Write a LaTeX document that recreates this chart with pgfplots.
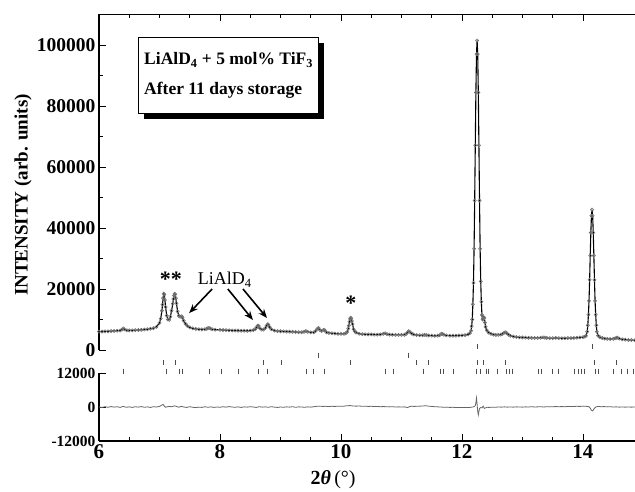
\documentclass[border=0pt]{standalone}
\usepackage{fontspec}
\setmainfont{Liberation Serif}
\usepackage{pgfplots}
\pgfplotsset{compat=1.18}
\usepackage{pgfplotstable}
\usetikzlibrary{arrows.meta,shadows}

% observed / calculated profile
\pgfplotstableread{
x y
6.00 6000
6.05 6050
6.10 6100
6.15 6100
6.20 6200
6.25 6250
6.30 6300
6.35 6400
6.38 6700
6.40 7100
6.42 6800
6.46 6450
6.50 6400
6.55 6450
6.60 6500
6.65 6550
6.70 6600
6.75 6700
6.80 6800
6.85 6950
6.90 7150
6.95 7600
7.00 8900
7.02 10300
7.04 12900
7.05 14900
7.06 17000
7.07 18500
7.08 18200
7.09 16400
7.10 14100
7.12 11300
7.14 10000
7.16 9900
7.18 10900
7.20 12900
7.22 15200
7.23 16700
7.24 17800
7.25 18400
7.26 18200
7.27 17000
7.28 15300
7.30 12600
7.32 11200
7.34 10900
7.36 11000
7.37 11000
7.38 10600
7.40 9600
7.43 8600
7.46 7900
7.50 7400
7.55 7100
7.60 6900
7.65 6800
7.70 6750
7.75 6800
7.78 6950
7.80 7150
7.82 7250
7.84 7050
7.87 6800
7.92 6650
8.00 6600
8.05 6550
8.10 6500
8.15 6450
8.20 6400
8.25 6400
8.30 6350
8.35 6300
8.40 6300
8.45 6300
8.50 6350
8.55 6500
8.58 6800
8.60 7300
8.62 7900
8.63 8000
8.64 7800
8.66 7100
8.69 6700
8.72 6700
8.75 7200
8.77 8000
8.79 8500
8.80 8300
8.82 7500
8.85 6800
8.90 6350
8.95 6200
9.00 6150
9.05 6100
9.10 6050
9.15 6000
9.20 5950
9.25 5900
9.30 5850
9.35 5850
9.39 5950
9.42 6200
9.45 5950
9.50 5750
9.55 5800
9.58 6200
9.61 7000
9.63 7200
9.65 6600
9.68 6200
9.71 6600
9.73 6500
9.76 5800
9.80 5600
9.85 5500
9.90 5400
9.95 5300
10.00 5300
10.05 5300
10.08 5500
10.10 5900
10.12 7000
10.13 8000
10.14 9300
10.15 10200
10.16 10600
10.17 10300
10.18 9500
10.19 8500
10.21 6800
10.23 6100
10.25 5700
10.30 5300
10.35 5200
10.40 5150
10.45 5100
10.50 5100
10.55 5050
10.60 5050
10.65 5100
10.70 5300
10.73 5500
10.76 5200
10.80 5050
10.85 5000
10.90 4950
10.95 4950
11.00 4950
11.05 5000
11.08 5300
11.10 5800
11.12 6200
11.14 5900
11.17 5400
11.20 5100
11.25 4900
11.30 4850
11.35 4850
11.38 4950
11.41 4900
11.45 4750
11.50 4700
11.55 4650
11.60 4700
11.63 4850
11.66 5300
11.68 5250
11.70 5000
11.74 4800
11.80 4700
11.85 4700
11.90 4700
11.95 4750
12.00 4800
12.05 4900
12.10 5100
12.13 5500
12.15 6300
12.16 7800
12.17 10000
12.18 15000
12.19 22000
12.20 33200
12.21 49000
12.22 67100
12.23 84400
12.24 97000
12.25 101500
12.26 97000
12.27 84400
12.28 67100
12.29 49000
12.30 33200
12.31 22500
12.32 15800
12.33 11500
12.34 10000
12.35 10300
12.36 10800
12.37 10500
12.38 9000
12.39 7600
12.41 6500
12.44 5700
12.48 5300
12.52 5050
12.56 4950
12.60 4950
12.64 5050
12.67 5300
12.70 5700
12.72 5800
12.74 5500
12.77 5000
12.80 4650
12.85 4400
12.90 4250
12.95 4150
13.00 4100
13.05 4050
13.10 4000
13.15 3950
13.20 3950
13.25 3950
13.30 4000
13.34 4150
13.37 4050
13.40 3950
13.45 3900
13.50 3900
13.55 3950
13.60 3900
13.65 3850
13.70 3850
13.75 3900
13.80 3900
13.85 3950
13.90 4000
13.95 4100
14.00 4200
14.03 4400
14.05 4600
14.07 6000
14.08 8100
14.09 11600
14.10 16100
14.11 23000
14.12 30950
14.13 38500
14.14 44000
14.15 46000
14.16 44000
14.17 38500
14.18 30950
14.19 23000
14.20 16100
14.21 11600
14.22 8100
14.23 6000
14.25 4700
14.28 4200
14.32 3900
14.36 3750
14.40 3650
14.45 3600
14.50 3650
14.53 3800
14.55 4000
14.57 4050
14.60 3750
14.65 3500
14.70 3400
14.75 3300
14.80 3250
14.86 3200
}\obs

% difference curve
\pgfplotstableread{
x y
6.00 0
6.05 -150
6.10 100
6.15 -100
6.20 150
6.25 -50
6.30 100
6.35 -150
6.40 200
6.45 -100
6.50 50
6.55 -150
6.60 100
6.65 -50
6.70 150
6.75 -100
6.80 50
6.85 -150
6.90 100
6.95 0
7.00 200
7.04 700
7.06 900
7.08 300
7.10 -100
7.15 200
7.20 100
7.25 400
7.28 200
7.32 -100
7.36 250
7.40 0
7.45 -150
7.50 100
7.55 -100
7.60 -200
7.65 -50
7.70 -150
7.75 100
7.80 -100
7.85 50
7.90 -150
7.95 0
8.00 -100
8.05 100
8.10 -50
8.15 150
8.20 0
8.25 -100
8.30 50
8.35 -150
8.40 50
8.45 -50
8.50 100
8.55 0
8.60 -150
8.65 100
8.70 -50
8.75 50
8.80 -100
8.85 100
8.90 -50
8.95 -150
9.00 0
9.05 -100
9.10 50
9.15 -50
9.20 100
9.25 -100
9.30 50
9.35 0
9.40 -100
9.45 50
9.50 -50
9.55 100
9.60 250
9.65 300
9.70 200
9.75 250
9.80 150
9.85 250
9.90 200
9.95 300
10.00 250
10.05 300
10.10 450
10.15 500
10.20 350
10.25 300
10.30 350
10.35 250
10.40 300
10.45 200
10.50 250
10.55 150
10.60 200
10.65 100
10.70 150
10.75 100
10.80 50
10.85 100
10.90 0
10.95 50
11.00 0
11.05 50
11.10 -200
11.13 100
11.17 300
11.20 200
11.25 250
11.30 300
11.35 350
11.40 450
11.45 300
11.50 200
11.55 100
11.60 50
11.65 0
11.70 -100
11.75 -50
11.80 -150
11.85 -100
11.90 -200
11.95 -150
12.00 -200
12.05 -150
12.10 -200
12.15 -100
12.20 100
12.22 500
12.23 1500
12.24 3200
12.25 1000
12.26 -1500
12.27 -2800
12.28 -1600
12.29 -500
12.31 -200
12.33 -300
12.35 300
12.37 -500
12.39 -300
12.42 -100
12.45 -150
12.50 -50
12.55 -100
12.60 0
12.65 -50
12.70 50
12.75 -50
12.80 0
12.85 -50
12.90 50
12.95 0
13.00 -50
13.05 50
13.10 0
13.15 100
13.20 0
13.25 50
13.30 100
13.35 0
13.40 100
13.45 50
13.50 100
13.55 150
13.60 100
13.65 150
13.70 100
13.75 200
13.80 150
13.85 200
13.90 250
13.95 200
14.00 300
14.05 250
14.10 100
14.12 -400
14.14 -1200
14.16 -1400
14.18 -700
14.21 0
14.25 200
14.30 100
14.35 150
14.40 50
14.45 100
14.50 0
14.55 50
14.60 -50
14.65 0
14.70 -50
14.75 0
14.80 -50
14.86 0
}\diff

\begin{document}
\begin{tikzpicture}
% page frame: 1pt per pixel of the reference, origin at the main panel's lower left corner
\useasboundingbox (-99pt,-142pt) rectangle (536pt,350pt);
\begin{axis}[
    at={(0,0)}, anchor=south west,
    scale only axis, width=536pt, height=335.5pt,
    xmin=6, xmax=14.86, ymin=0, ymax=110000,
    axis x line*=top, axis y line*=left,
    tick align=inside,
    xtick={6,8,...,14}, minor x tick num=3, xticklabels={},
    ytick={0,20000,40000,60000,80000,100000},
    yticklabels={0,20000,40000,60000,80000,100000},
    scaled ticks=false,
    minor y tick num=1,
    yticklabel style={font=\fontsize{19.5}{19.5}\selectfont\bfseries},
    major tick length=7pt, minor tick length=4pt,
    every tick/.style={black, line width=0.9pt},
    axis line style={line width=1.2pt},
    clip=false,
]
\addplot[only marks, mark=o, mark size=1.6pt, black!55, mark options={line width=0.6pt}] table {\obs};
\addplot[black, line width=1.1pt] table {\obs};
% top frame line
\draw[line width=1.2pt] (rel axis cs:0,1) -- (rel axis cs:1,1);

\node[rotate=90, font=\fontsize{19}{19}\selectfont\bfseries] at (axis cs:4.744,50800) {INTENSITY (arb. units)};

\node[draw, line width=1.2pt, fill=white,
      drop shadow={shadow xshift=5pt, shadow yshift=-5pt, fill=black, opacity=1},
      align=left, font=\fontsize{17.5}{30}\selectfont\bfseries,
      minimum width=180pt, minimum height=76pt, anchor=north west]
  at (axis cs:6.645,102600) {LiAlD\textsubscript{4} + 5 mol\% TiF\textsubscript{3}\\After 11 days storage};

\node[font=\fontsize{22}{22}\selectfont\bfseries] at (axis cs:7.19,23300) {**};
\node[font=\fontsize{22}{22}\selectfont\bfseries] at (axis cs:10.165,15300) {*};
\node[font=\fontsize{18}{18}\selectfont] at (axis cs:8.08,22950) {LiAlD\textsubscript{4}};
\draw[-{Stealth[length=9pt,width=7pt]}, line width=1.6pt] (axis cs:7.87,20000) -- (axis cs:7.49,12100);
\draw[-{Stealth[length=9pt,width=7pt]}, line width=1.6pt] (axis cs:8.13,20000) -- (axis cs:8.545,9840);
\draw[-{Stealth[length=9pt,width=7pt]}, line width=1.6pt] (axis cs:8.38,20000) -- (axis cs:8.777,10490);
\end{axis}

\begin{axis}[
    at={(0,-23pt)}, anchor=north west,
    scale only axis, width=536pt, height=68pt,
    xmin=6, xmax=14.86, ymin=-12000, ymax=12000,
    axis x line*=bottom, axis y line*=left,
    tick align=inside,
    xtick={6,8,10,12,14}, xticklabels={6,8,10,12,14},
    minor x tick num=3,
    ytick={-12000,0,12000}, yticklabels={-12000,0,12000},
    scaled ticks=false,
    xticklabel style={font=\fontsize{21}{21}\selectfont\bfseries},
    yticklabel style={font=\fontsize{15.5}{15.5}\selectfont\bfseries},
    major tick length=7pt, minor tick length=4pt,
    every tick/.style={black, line width=0.9pt},
    axis line style={line width=1.2pt},
    clip=false,
]
\addplot[black!60, line width=0.8pt] table {\diff};
% reflection markers, four phases
\addplot[only marks, mark=|, mark size=2.5pt, black!70, mark options={line width=0.7pt}] coordinates {
(12.25,21180) (14.15,21180)};
\addplot[only marks, mark=|, mark size=2.5pt, black!70, mark options={line width=0.7pt}] coordinates {
(9.62,18350) (11.12,18350)};
\addplot[only marks, mark=|, mark size=2.5pt, black!70, mark options={line width=0.7pt}] coordinates {
(7.07,15530) (7.26,15530) (8.71,15530) (9.01,15530) (10.15,15530) (11.24,15530)
(11.45,15530) (12.26,15530) (12.36,15530) (12.71,15530) (14.18,15530) (14.55,15530)};
\addplot[only marks, mark=|, mark size=2.5pt, black!70, mark options={line width=0.7pt}] coordinates {
(6.40,12700) (7.11,12700) (7.32,12700) (7.37,12700) (7.82,12700) (8.02,12700)
(8.30,12700) (8.63,12700) (8.79,12700) (9.42,12700) (9.54,12700) (9.72,12700)
(10.73,12700) (10.86,12700) (11.36,12700) (11.65,12700) (11.69,12700) (11.85,12700)
(12.23,12700) (12.30,12700) (12.40,12700) (12.43,12700) (12.58,12700) (12.74,12700)
(12.78,12700) (12.83,12700) (13.26,12700) (13.32,12700) (13.50,12700) (13.60,12700)
(13.85,12700) (13.92,12700) (13.98,12700) (14.03,12700) (14.21,12700) (14.26,12700)
(14.51,12700) (14.64,12700) (14.74,12700) (14.83,12700)};
\node[font=\fontsize{20}{20}\selectfont] at (axis cs:9.87,-25800) {\textbf{2}\textbf{\textit{θ}}\,(°)};
\end{axis}
\end{tikzpicture}
\end{document}
